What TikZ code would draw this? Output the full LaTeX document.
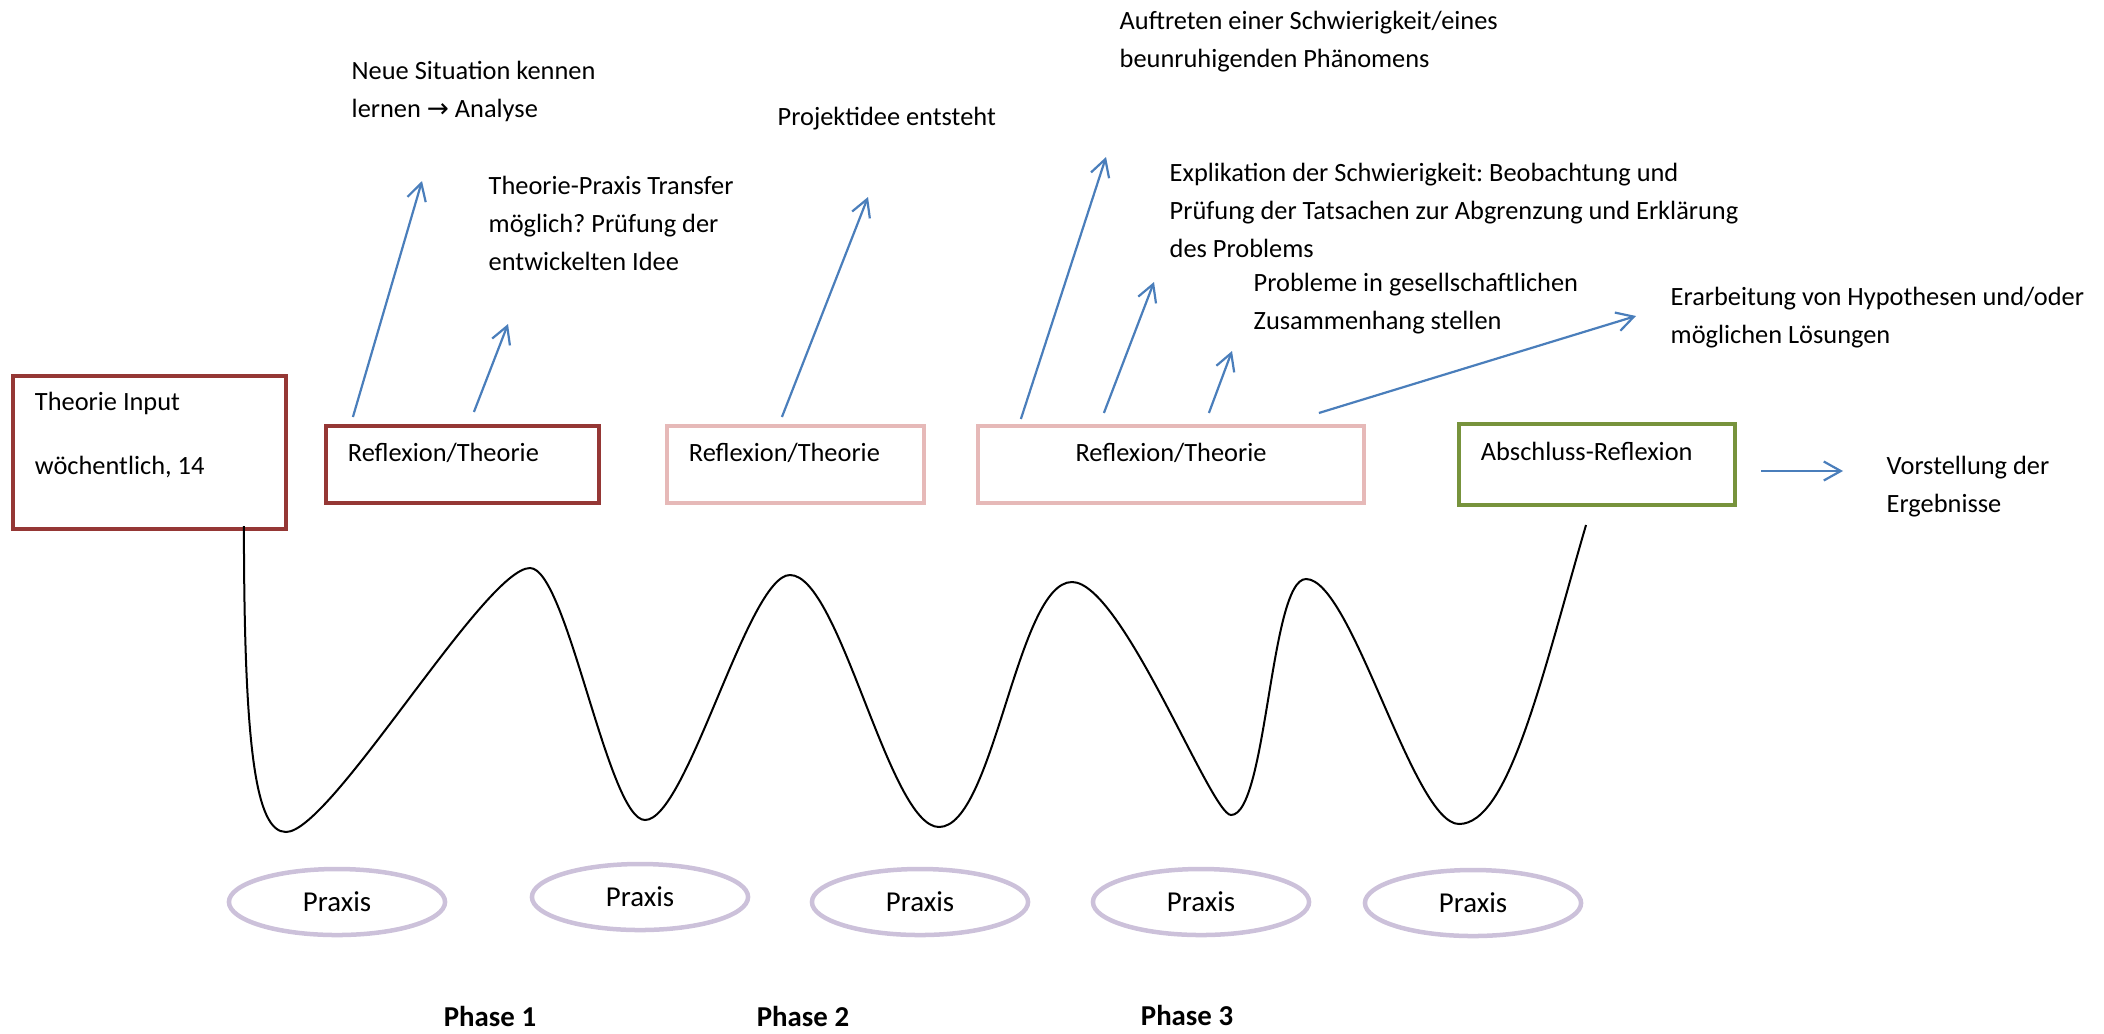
\documentclass[tikz,border=0pt]{standalone}
\usepackage{fontspec}
\setmainfont{Carlito}
\newfontfamily\arrowfont{DejaVu Sans}
\usetikzlibrary{shapes.geometric, arrows.meta, calc}

\definecolor{theorie}{HTML}{953735}
\definecolor{reflex}{HTML}{E6B9B8}
\definecolor{abschluss}{HTML}{77933C}
\definecolor{pfeil}{HTML}{4A7EBB}
\definecolor{praxisrand}{HTML}{CCC1DA}

\frenchspacing

\begin{document}
\begin{tikzpicture}[x=0.01cm, y=-0.01cm,
    font=\fontsize{7.5pt}{10.8pt}\selectfont,
    box/.style={draw, rectangle, line width=0.04cm, inner xsep=0.22cm, inner ysep=0pt,
        minimum height=0.77cm, text height=0.15cm, text depth=0.22cm, align=flush left},
    note/.style={anchor=base west, inner sep=0pt, align=flush left},
    praxis/.style={ellipse, draw=praxisrand, line width=0.045cm, minimum width=2.16cm,
        minimum height=0.66cm, inner sep=0pt, font=\fontsize{8.2pt}{10pt}\selectfont},
    phase/.style={font=\fontsize{8.2pt}{10pt}\selectfont\bfseries},
    impuls/.style={color=pfeil, line width=0.022cm, -{Straight Barb[length=0.17cm, width=0.19cm]}},
    welle/.style={draw, line width=0.02cm}]
    \useasboundingbox (0,0) rectangle (2104,1033);

    % Kaesten
    \node[box, draw=theorie, minimum width=2.73cm, minimum height=1.53cm, text width=2.29cm,
        text height={}, text depth={}] (b_input) at (149.5,452.5)
        {Theorie Input\\[0.26cm]wöchentlich, 14\rule[-0.375cm]{0pt}{0pt}};
    \node[box, draw=theorie, minimum width=2.73cm, text width=2.29cm] (r_1) at (462.5,464.5) {Reflexion/Theorie};
    \node[box, draw=reflex, minimum width=2.57cm, text width=2.13cm] (r_2) at (795.5,464.5) {Reflexion/Theorie};
    \node[box, draw=reflex, minimum width=3.86cm, text width=3.42cm, align=center] (r_3) at (1171,464.5) {Reflexion/Theorie};
    \node[box, draw=abschluss, minimum width=2.76cm, minimum height=0.81cm, text width=2.32cm,
        text height=0.14cm, text depth=0.23cm] (r_end) at (1597,464.5) {Abschluss-Reflexion};

    % Praxis
    \node[praxis] (p_1) at (337,902) {Praxis};
    \node[praxis] (p_2) at (640,897) {Praxis};
    \node[praxis] (p_3) at (920,902) {Praxis};
    \node[praxis] (p_4) at (1201,902) {Praxis};
    \node[praxis] (p_5) at (1473,903) {Praxis};

    \node[phase] (ph_1) at (490,1016) {Phase 1};
    \node[phase] (ph_2) at (803,1016) {Phase 2};
    \node[phase] (ph_3) at (1187,1015) {Phase 3};

    % Texte (Position = Grundlinie der letzten Zeile)
    \node[note] (t_situation) at (351,117) {Neue Situation kennen\\lernen {\arrowfont →} Analyse};
    \node[note] (t_transfer) at (488,270) {Theorie-Praxis Transfer\\möglich? Prüfung der\\entwickelten Idee};
    \node[note] (t_idee) at (777,125) {Projektidee entsteht};
    \node[note] (t_auftreten) at (1119,67) {Auftreten einer Schwierigkeit/eines\\beunruhigenden Phänomens};
    \node[note] (t_explikation) at (1169,257) {Explikation der Schwierigkeit: Beobachtung und\\Prüfung der Tatsachen zur Abgrenzung und Erklärung\\des Problems};
    \node[note] (t_gesell) at (1253,329) {Probleme in gesellschaftlichen\\Zusammenhang stellen};
    \node[note] (t_hypo) at (1670,343) {Erarbeitung von Hypothesen und/oder\\möglichen Lösungen};
    \node[note] (t_vorstellung) at (1886,512) {Vorstellung der\\Ergebnisse};

    % Pfeilspitzen
    \coordinate (a_1) at (422,181);
    \coordinate (a_2) at (508,324);
    \coordinate (a_3) at (868,197);
    \coordinate (a_4) at (1106,157);
    \coordinate (a_5) at (1154,282);
    \coordinate (a_6) at (1232,351);
    \coordinate (a_7) at (1636,316);
    \coordinate (a_8) at (1843,471);
    \coordinate (w_end) at (1586,525);

    \path[impuls]
        ($(r_1.north west)+(29,-7)$) edge (a_1)
        ($(r_1.north west)+(150,-12)$) edge (a_2)
        ($(r_2.north west)+(117,-7)$) edge (a_3)
        ($(r_3.north west)+(45,-5)$) edge (a_4)
        ($(r_3.north west)+(128,-11)$) edge (a_5)
        ($(r_3.north west)+(233,-11)$) edge (a_6)
        ($(r_3.north west)+(343,-11)$) edge (a_7)
        ($(r_end.east)+(24,6.5)$) edge (a_8);

    % Welle
    \draw[welle] ($(b_input.south west)+(233,-5)$)
        .. controls (244,750) and (256,832) .. (286,832)
        .. controls (331,832) and (485,568) .. (530,568)
        .. controls (567,568) and (608,820) .. (645,820)
        .. controls (687,820) and (748,575) .. (790,575)
        .. controls (840,575) and (889,827) .. (939,827)
        .. controls (994,827) and (1017,582) .. (1072,582)
        .. controls (1122,582) and (1211,815) .. (1231,815)
        .. controls (1267,815) and (1270,579) .. (1306,579)
        .. controls (1352,579) and (1413,824) .. (1459,824)
        .. controls (1509,824) and (1542,676) .. (w_end);

\end{tikzpicture}
\end{document}
